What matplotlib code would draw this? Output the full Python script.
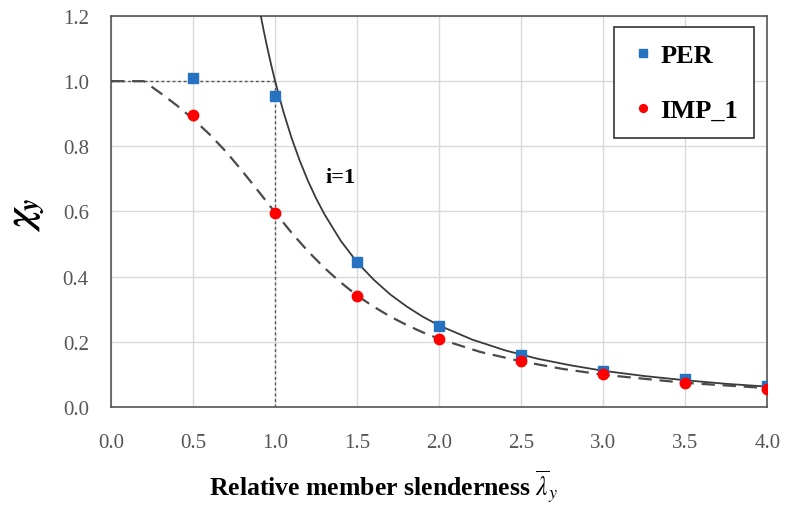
import matplotlib.pyplot as plt

plt.rcParams['font.family'] = ['Liberation Serif', 'DejaVu Serif']
plt.rcParams['mathtext.fontset'] = 'stix'

# test results
lam_pts = [0.5, 1.0, 1.5, 2.0, 2.5, 3.0, 3.5, 4.0]
per = [1.01, 0.955, 0.445, 0.25, 0.16, 0.11, 0.085, 0.065]
imp_1 = [0.895, 0.595, 0.34, 0.21, 0.14, 0.10, 0.075, 0.055]

# elastic (Euler) curve
lam_euler = [0.913, 0.93, 0.95, 0.975, 1.0, 1.05, 1.1, 1.15, 1.2, 1.25, 1.3, 1.4, 1.5,
             1.6, 1.7, 1.8, 1.9, 2.0, 2.2, 2.4, 2.6, 2.8, 3.0, 3.25, 3.5, 3.75, 4.0]
chi_euler = [1.2, 1.156, 1.108, 1.052, 1.0, 0.907, 0.826, 0.756, 0.694, 0.640, 0.592,
             0.510, 0.444, 0.391, 0.346, 0.309, 0.277, 0.25, 0.207, 0.174, 0.148,
             0.128, 0.111, 0.095, 0.082, 0.071, 0.0625]

# buckling curve (dashed)
lam_buck = [0.0, 0.2, 0.3, 0.4, 0.5, 0.6, 0.7, 0.8, 0.9, 1.0, 1.1, 1.2, 1.3, 1.4,
            1.5, 1.6, 1.7, 1.8, 1.9, 2.0, 2.25, 2.5, 2.75, 3.0, 3.5, 4.0]
chi_buck = [1.0, 1.0, 0.964, 0.926, 0.884, 0.837, 0.784, 0.724, 0.661, 0.597, 0.535,
            0.478, 0.427, 0.382, 0.342, 0.308, 0.278, 0.252, 0.229, 0.209, 0.169,
            0.140, 0.117, 0.099, 0.074, 0.058]

fig = plt.figure(figsize=(7.89, 5.06), dpi=100)
ax = fig.add_axes([0.1407, 0.1937, 0.8320, 0.7727])

ax.plot([0, 1.0], [1.0, 1.0], color='#555555', lw=1, ls=(0, (2, 2)), zorder=2)
ax.plot([1.0, 1.0], [0, 1.0], color='#555555', lw=1, ls=(0, (2, 2)), zorder=2)

ax.plot(lam_euler, chi_euler, color='#3a3a3a', lw=1.3, zorder=3)
ax.plot(lam_buck, chi_buck, color='#4a4a4a', lw=1.6, ls=(0, (6, 3.5)), zorder=3)

ax.plot(lam_pts, per, ls='none', marker='s', ms=7.5, color='#2472C0', label='PER', zorder=4)
ax.plot(lam_pts, imp_1, ls='none', marker='o', ms=7.5, color='#FF0000', label='IMP_1', zorder=4)

ax.text(1.31, 0.705, 'i=1', fontsize=16, fontweight='bold', ha='left', va='center')

ax.set_xlim(0, 4)
ax.set_ylim(0, 1.2)
ax.set_xticks([0.0, 0.5, 1.0, 1.5, 2.0, 2.5, 3.0, 3.5, 4.0])
ax.set_yticks([0.0, 0.2, 0.4, 0.6, 0.8, 1.0, 1.2])
ax.set_xticklabels(['%.1f' % v for v in ax.get_xticks()])
ax.set_yticklabels(['%.1f' % v for v in ax.get_yticks()])
ax.tick_params(length=0, labelsize=15, labelcolor='#555555')
ax.tick_params(axis='x', pad=19)
ax.tick_params(axis='y', pad=16)
ax.grid(True, color='#d9d9d9', lw=1)
ax.set_axisbelow(True)
for s in ax.spines.values():
    s.set_color('#555555')
    s.set_linewidth(1.2)

ax.set_xlabel(r'Relative member slenderness $\overline{\lambda}_y$', fontsize=18.5,
              fontweight='bold')
ax.xaxis.set_label_coords(0.415, -0.155)
ax.set_ylabel(r'$\boldsymbol{\chi}_{\boldsymbol{y}}$', fontsize=28)
ax.yaxis.set_label_coords(-0.098, 0.494)

leg = ax.legend(loc='upper right', bbox_to_anchor=(0.980, 0.972), borderaxespad=0,
                fancybox=False, edgecolor='#333333', framealpha=1, handlelength=1.0,
                handletextpad=0.15, labelspacing=1.2, borderpad=0.62, markerscale=0.75,
                prop={'size': 19, 'weight': 'bold'})
leg.get_frame().set_linewidth(1.2)

fig.savefig('out.png', dpi=100)
